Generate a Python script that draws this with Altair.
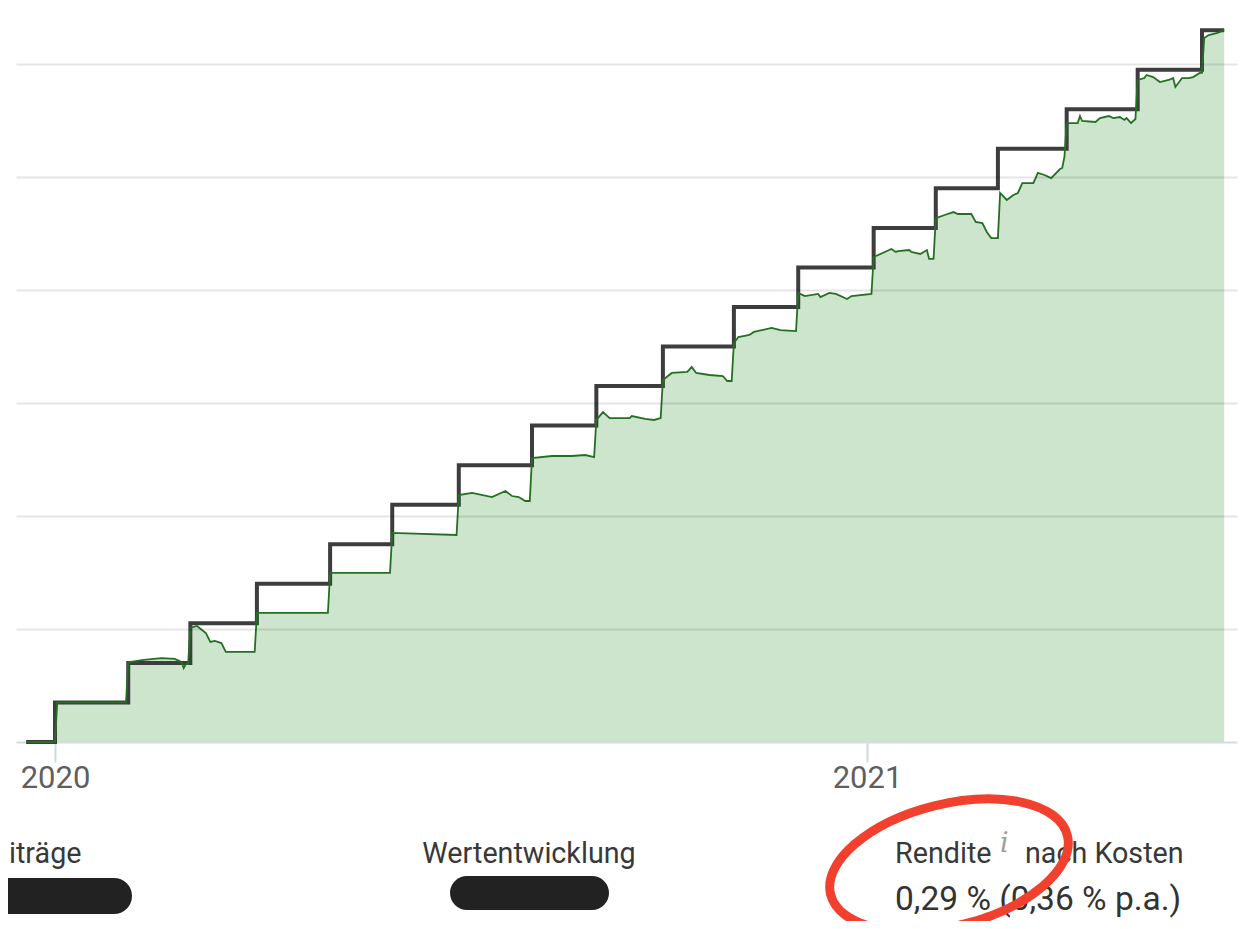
import altair as alt
import pandas as pd

# Monthly contributions (Einzahlungen) – step line
contrib_dates = ["2019-12-19", "2020-01-01", "2020-02-03", "2020-03-02", "2020-04-01",
                 "2020-05-04", "2020-06-01", "2020-07-01", "2020-08-03", "2020-09-01",
                 "2020-10-01", "2020-11-02", "2020-12-01", "2021-01-04", "2021-02-01",
                 "2021-03-01", "2021-04-01", "2021-05-03", "2021-06-01", "2021-06-11"]
contrib_values = [0, 350, 700, 1050, 1400, 1750, 2100, 2450, 2800, 3150,
                  3500, 3850, 4200, 4550, 4900, 5250, 5600, 5950, 6300, 6300]

# Portfolio value (Wert) – green area
value_dates = [
    "2019-12-19", "2020-01-01", "2020-01-02", "2020-02-02", "2020-02-03", "2020-02-10",
    "2020-02-18", "2020-02-24", "2020-02-27", "2020-02-28", "2020-02-29", "2020-03-01",
    "2020-03-02", "2020-03-05", "2020-03-09", "2020-03-11", "2020-03-13", "2020-03-16",
    "2020-03-18", "2020-03-31", "2020-04-01", "2020-05-03", "2020-05-04", "2020-05-31",
    "2020-06-01", "2020-06-30", "2020-07-01", "2020-07-07", "2020-07-16", "2020-07-22",
    "2020-07-25", "2020-07-28", "2020-07-31", "2020-08-02", "2020-08-03", "2020-08-12",
    "2020-08-21", "2020-08-27", "2020-08-31", "2020-09-01", "2020-09-04", "2020-09-07",
    "2020-09-16", "2020-09-17", "2020-09-23", "2020-09-27", "2020-09-30", "2020-10-01",
    "2020-10-05", "2020-10-12", "2020-10-14", "2020-10-16", "2020-10-22", "2020-10-28",
    "2020-10-30", "2020-11-01", "2020-11-02", "2020-11-04", "2020-11-09", "2020-11-11",
    "2020-11-19", "2020-11-23", "2020-11-30", "2020-12-01", "2020-12-04", "2020-12-10",
    "2020-12-11", "2020-12-15", "2020-12-18", "2020-12-23", "2020-12-25", "2021-01-03",
    "2021-01-04", "2021-01-10", "2021-01-12", "2021-01-14", "2021-01-15", "2021-01-20",
    "2021-01-21", "2021-01-25", "2021-01-28", "2021-01-29", "2021-01-31", "2021-02-01",
    "2021-02-05", "2021-02-09", "2021-02-11", "2021-02-17", "2021-02-19", "2021-02-22",
    "2021-02-24", "2021-02-26", "2021-03-01", "2021-03-02", "2021-03-05", "2021-03-08",
    "2021-03-10", "2021-03-12", "2021-03-17", "2021-03-19", "2021-03-22", "2021-03-25",
    "2021-03-29", "2021-03-30", "2021-03-31", "2021-04-01", "2021-04-06", "2021-04-07",
    "2021-04-08", "2021-04-14", "2021-04-16", "2021-04-20", "2021-04-22", "2021-04-25",
    "2021-04-27", "2021-04-28", "2021-04-30", "2021-05-02", "2021-05-03", "2021-05-06",
    "2021-05-07", "2021-05-10", "2021-05-13", "2021-05-17", "2021-05-19", "2021-05-20",
    "2021-05-23", "2021-05-26", "2021-05-28", "2021-05-31", "2021-06-01", "2021-06-02",
    "2021-06-04", "2021-06-08", "2021-06-11"]
value_values = [
    0, 0, 350, 350, 705, 726,
    743, 735, 708, 655, 690, 690,
    1009, 1027, 965, 885, 894, 876,
    797, 797, 1142, 1142, 1496, 1496,
    1850, 1832, 2186, 2204, 2168, 2221,
    2177, 2168, 2133, 2133, 2513, 2531,
    2531, 2540, 2522, 2850, 2920, 2867,
    2867, 2885, 2859, 2850, 2867, 3204,
    3266, 3275, 3319, 3266, 3248, 3239,
    3195, 3195, 3531, 3584, 3602, 3629,
    3664, 3646, 3637, 3974, 3947, 3965,
    3938, 3974, 3965, 3921, 3947, 3965,
    4292, 4345, 4363, 4337, 4345, 4354,
    4337, 4319, 4354, 4275, 4275, 4637,
    4664, 4690, 4673, 4673, 4602, 4593,
    4514, 4460, 4460, 4859, 4797, 4841,
    4859, 4947, 4947, 5036, 5018, 4991,
    5071, 5080, 5180, 5478, 5478, 5540,
    5496, 5487, 5522, 5540, 5522, 5531,
    5505, 5522, 5478, 5514, 5859, 5876,
    5903, 5885, 5841, 5859, 5876, 5797,
    5876, 5876, 5885, 5921, 5921, 6230,
    6257, 6275, 6301]

grid_values = [1000, 2000, 3000, 4000, 5000, 6000]
year_ticks = [2020, 2021]

label_left = "iträge"
label_mid = "Wertentwicklung"
label_right_a = "Rendite"
label_info = "i"
label_right_b = "nach Kosten"
label_return = "0,29 % (0,36 % p.a.)"

contrib_df = pd.DataFrame({"date": contrib_dates, "value": contrib_values})
value_df = pd.DataFrame({"date": value_dates, "value": value_values})
one = pd.DataFrame({"k": [0]})

x_scale = alt.Scale(
    type="utc",
    domain=[alt.DateTime(year=2019, month=12, date=14, hours=10, utc=True),
            alt.DateTime(year=2021, month=6, date=16, hours=18, minutes=30, utc=True)],
)
y_scale = alt.Scale(domain=[0, 6496], nice=False, zero=True)

x_axis = alt.Axis(
    values=[alt.DateTime(year=y, month=1, date=1, utc=True) for y in year_ticks],
    format="%Y", formatType="utc", title=None, grid=False,
    domainColor="#d3dbe3", domainWidth=2,
    tickColor="#cfd8dc", tickWidth=2, tickSize=20,
    labelFont="Roboto", labelFontSize=31, labelColor="#5f5f5f", labelPadding=1,
)
y_axis = alt.Axis(
    values=grid_values, title=None, labels=False, ticks=False, domain=False,
    grid=True, gridColor="#000000", gridOpacity=0.1, gridWidth=2, zindex=1,
)

area = alt.Chart(value_df).mark_area(color="#cde4cd", opacity=1).encode(
    x=alt.X("date:T", scale=x_scale, axis=x_axis),
    y=alt.Y("value:Q", scale=y_scale, axis=y_axis),
)
gray = alt.Chart(contrib_df).mark_line(
    interpolate="step-after", color="#3d3d3d", strokeWidth=4
).encode(x="date:T", y="value:Q")
green = alt.Chart(value_df).mark_line(color="#237023", strokeWidth=1.8).encode(
    x="date:T", y="value:Q"
)

def txt(s, x, y, size, align="left", color="#383838", font="Roboto", style="normal"):
    return alt.Chart(one).mark_text(
        text=s, align=align, baseline="alphabetic", font=font, fontSize=size,
        color=color, fontStyle=style,
    ).encode(x=alt.value(x), y=alt.value(y))

# positions relative to the plot origin (page x 16, page y 8)
t1 = txt(label_left, -7, 855, 28.7, align="left")
t2 = txt(label_mid, 513, 855, 28.7, align="center")
t3 = txt(label_right_a, 879, 855, 28.7)
t4 = txt(label_info, 984, 844, 27, color="#9e9e9e", font="DejaVu Serif", style="italic")
t5 = txt(label_right_b, 1009, 855, 28.7)
t6 = txt(label_return, 879, 902, 33.5, color="#333333")

blob1 = alt.Chart(one).mark_rule(color="#222222", strokeWidth=36, strokeCap="round").encode(
    x=alt.value(-6), x2=alt.value(98), y=alt.value(888))
blob2 = alt.Chart(one).mark_rule(color="#222222", strokeWidth=34, strokeCap="round").encode(
    x=alt.value(451), x2=alt.value(576), y=alt.value(885))

ellipse_path = ("M 1 0 C 1 0.276 0.5523 0.5 0 0.5 C -0.5523 0.5 -1 0.276 -1 0 "
                "C -1 -0.276 -0.5523 -0.5 0 -0.5 C 0.5523 -0.5 1 -0.276 1 0 Z")
ring = alt.Chart(one).mark_point(
    shape=ellipse_path, size=59536, filled=False, stroke="#f2402e",
    strokeWidth=9, opacity=1, angle=346,
).encode(x=alt.value(933), y=alt.value(857))

chart = alt.layer(area, gray, green, t1, t2, t3, t4, t5, t6, blob1, blob2, ring).properties(
    width=1221, height=734,
    padding={"left": 8, "top": 0, "right": 6, "bottom": 179},
    autosize=alt.AutoSizeParams(type="none"),
).configure_view(stroke=None)

chart.save("out.html", embed_options={"renderer": "svg", "actions": False})
